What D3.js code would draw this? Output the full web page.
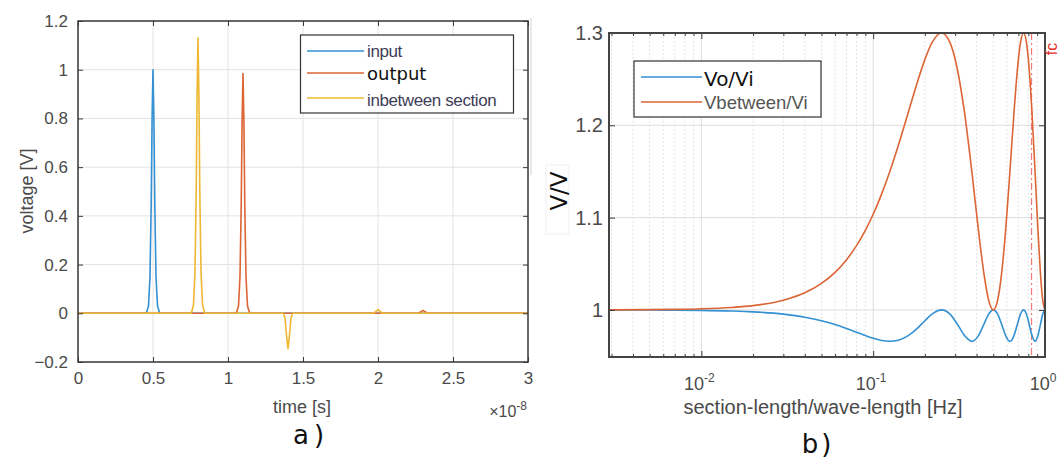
<!DOCTYPE html>
<html>
<head>
<meta charset="utf-8">
<script src="https://cdn.jsdelivr.net/npm/d3@7"></script>
<style>
  body { margin: 0; background: #fff; }
  text { font-family: "Liberation Sans", Arial, sans-serif; }
</style>
</head>
<body>
<div id="fig"></div>
<script>
// ---- data ----
// plot a) : time in units of 1e-8 s, voltage in V
var inputPulse = [[0,0],[0.455,0],[0.47,0.03],[0.48,0.15],[0.488,0.45],[0.494,0.8],[0.5,1.0],[0.506,0.8],[0.512,0.45],[0.52,0.15],[0.53,0.03],[0.545,0],[3,0]];
var outputPulse = [[0,0],[1.055,0],[1.07,0.03],[1.08,0.15],[1.088,0.44],[1.094,0.79],[1.1,0.984],[1.106,0.79],[1.112,0.44],[1.12,0.15],[1.13,0.03],[1.145,0],
  [2.27,0],[2.29,0.008],[2.3,0.012],[2.31,0.008],[2.33,0],[3,0]];
var betweenPulse = [[0,0],[0.755,0],[0.77,0.035],[0.78,0.17],[0.788,0.5],[0.794,0.9],[0.8,1.13],[0.806,0.9],[0.812,0.5],[0.82,0.17],[0.83,0.035],[0.845,0],
  [1.37,0],[1.38,-0.02],[1.39,-0.09],[1.4,-0.145],[1.41,-0.09],[1.42,-0.02],[1.43,0],
  [1.97,0],[1.99,0.01],[2.0,0.015],[2.01,0.01],[2.03,0],[3,0]];
var timeTicks = [0, 0.5, 1, 1.5, 2, 2.5, 3];
var voltTicks = [-0.2, 0, 0.2, 0.4, 0.6, 0.8, 1, 1.2];

// plot b) : section-length / wave-length
var freq = [0.0029,0.005,0.007,0.01,0.015,0.02,0.03,0.04,0.05,0.06,0.07,0.08,0.09,0.1,0.11,0.125,0.14,0.16,0.18,0.2,0.22,0.25,
  0.28,0.31,0.34,0.375,0.41,0.44,0.47,0.5,0.53,0.56,0.59,0.625,0.66,0.69,0.72,0.75,0.78,0.81,0.84,0.875,0.91,0.94,0.97,1.0];
var voVi = [1.0,0.9999,0.9997,0.9995,0.9988,0.9979,0.9954,0.9921,0.9883,0.9841,0.9798,0.9758,0.9722,0.9692,0.9672,0.966,0.9672,0.9722,0.9798,0.9883,0.9954,1.0,
  0.9954,0.9841,0.9722,0.966,0.9722,0.9841,0.9954,1.0,0.9954,0.9841,0.9722,0.966,0.9722,0.9841,0.9954,1.0,0.9954,0.9841,0.9722,0.966,0.9722,0.9841,0.9954,1.0];
var vbVi = [1.0001,1.0003,1.0006,1.0012,1.0027,1.0047,1.0105,1.0185,1.0287,1.0407,1.0544,1.0696,1.0861,1.1036,1.1219,1.15,1.1781,1.2139,1.2456,1.2714,1.2895,1.3,
  1.2895,1.2594,1.2139,1.15,1.0861,1.0407,1.0105,1.0,1.0105,1.0407,1.0861,1.15,1.2139,1.2594,1.2895,1.3,1.2895,1.2594,1.2139,1.15,1.0861,1.0407,1.0105,1.0];
var ratioTicks = [1, 1.1, 1.2, 1.3];
var freqTicks = [0.01, 0.1, 1];
var freqExp = ["-2", "-1", "0"];
var fcValue = 0.835;

var cBlue = "#3391d4", cRed = "#dc6535", cYellow = "#efb833";
var axisCol = "#3a3a3a", tickTxt = "#4a4a4a";

var width = 1059, height = 459;
var svg = d3.select("#fig").append("svg")
  .attr("width", width)
  .attr("height", height);

// ================= plot a) =================
var ax = { left: 78, right: 528, top: 21, bottom: 362 };
var xA = d3.scaleLinear().domain([0, 3]).range([ax.left, ax.right]);
var yA = d3.scaleLinear().domain([-0.2, 1.2]).range([ax.bottom, ax.top]);

var gA = svg.append("g");

//grid
gA.selectAll(".gx").data(timeTicks).enter().append("line")
  .attr("x1", d => xA(d)).attr("x2", d => xA(d))
  .attr("y1", ax.top).attr("y2", ax.bottom)
  .attr("stroke", "#e3e3e3");
gA.selectAll(".gy").data(voltTicks).enter().append("line")
  .attr("x1", ax.left).attr("x2", ax.right)
  .attr("y1", d => yA(d)).attr("y2", d => yA(d))
  .attr("stroke", "#e3e3e3");

svg.append("clipPath").attr("id", "clipA").append("rect")
  .attr("x", ax.left).attr("y", ax.top)
  .attr("width", ax.right - ax.left).attr("height", ax.bottom - ax.top);

var lineA = d3.line().x(d => xA(d[0])).y(d => yA(d[1]));
[[inputPulse, cBlue], [outputPulse, cRed], [betweenPulse, cYellow]].forEach(function (s) {
  gA.append("path")
    .attr("d", lineA(s[0]))
    .attr("clip-path", "url(#clipA)")
    .attr("fill", "none")
    .attr("stroke", s[1])
    .attr("stroke-width", 1.6)
    .attr("stroke-linejoin", "round");
});

//axes with inward ticks on all sides
var axB = d3.axisBottom(xA).tickValues(timeTicks).tickSize(-5).tickFormat(d3.format("~g")).tickPadding(10);
var axT = d3.axisTop(xA).tickValues(timeTicks).tickSize(-5).tickFormat("");
var axL = d3.axisLeft(yA).tickValues(voltTicks).tickSize(-5).tickFormat(d3.format("~g")).tickPadding(10);
var axR = d3.axisRight(yA).tickValues(voltTicks).tickSize(-5).tickFormat("");

function styleAxis(g, fs) {
  g.select(".domain").attr("stroke", axisCol).attr("stroke-width", 1.5);
  g.selectAll(".tick line").attr("stroke", axisCol);
  g.selectAll(".tick text").attr("fill", tickTxt).style("font-size", fs + "px")
    .style("font-family", "'Liberation Sans', Arial, sans-serif");
}
gA.append("g").attr("transform", "translate(0," + ax.bottom + ")").call(axB).call(styleAxis, 17);
gA.append("g").attr("transform", "translate(0," + ax.top + ")").call(axT).call(styleAxis, 17);
gA.append("g").attr("transform", "translate(" + ax.left + ",0)").call(axL).call(styleAxis, 17);
gA.append("g").attr("transform", "translate(" + ax.right + ",0)").call(axR).call(styleAxis, 17);
gA.selectAll("path.domain").attr("d", null);
gA.append("rect")
  .attr("x", ax.left).attr("y", ax.top)
  .attr("width", ax.right - ax.left).attr("height", ax.bottom - ax.top)
  .attr("fill", "none").attr("stroke", axisCol).attr("stroke-width", 1.5);

//labels
gA.append("text")
  .attr("x", 302).attr("y", 413)
  .attr("text-anchor", "middle")
  .attr("fill", tickTxt).style("font-size", "18px")
  .text("time [s]");
var expA = gA.append("text")
  .attr("x", 527).attr("y", 417)
  .attr("text-anchor", "end")
  .attr("fill", tickTxt).style("font-size", "16px");
expA.append("tspan").text("\u00d710");
expA.append("tspan").attr("dy", -7).style("font-size", "12px").text("-8");

gA.append("text")
  .attr("transform", "translate(33,191) rotate(-90)")
  .attr("text-anchor", "middle")
  .attr("fill", tickTxt).style("font-size", "18px")
  .text("voltage [V]");

gA.append("text")
  .attr("x", 311).attr("y", 444)
  .attr("text-anchor", "middle")
  .style("font-family", "'DejaVu Sans', sans-serif")
  .style("font-size", "26px")
  .style("letter-spacing", "5px")
  .attr("fill", "#111")
  .text("a)");

//legend a)
var legA = gA.append("g");
legA.append("rect")
  .attr("x", 300.5).attr("y", 35)
  .attr("width", 213).attr("height", 78)
  .attr("fill", "#fff").attr("stroke", "#333").attr("stroke-width", 1.2);
var legRowsA = [
  { name: "input", col: cBlue, ly: 51, ty: 57, font: "'Liberation Sans', Arial, sans-serif", fs: 17, tc: "#3d3d58" },
  { name: "output", col: cRed, ly: 73, ty: 80, font: "'DejaVu Sans', sans-serif", fs: 18, tc: "#111" },
  { name: "inbetween section", col: cYellow, ly: 98, ty: 106, font: "'Liberation Sans', Arial, sans-serif", fs: 17, tc: "#3d3d58" }
];
legRowsA.forEach(function (r) {
  legA.append("line")
    .attr("x1", 307).attr("x2", 364)
    .attr("y1", r.ly).attr("y2", r.ly)
    .attr("stroke", r.col).attr("stroke-width", 1.6);
  legA.append("text")
    .attr("x", 367).attr("y", r.ty)
    .style("font-family", r.font).style("font-size", r.fs + "px")
    .style("letter-spacing", r.fs == 17 ? "-0.4px" : "0px")
    .attr("fill", r.tc)
    .text(r.name);
});

//faint frame edge between the two panels
svg.append("line")
  .attr("x1", 531).attr("x2", 531).attr("y1", 18).attr("y2", 175)
  .attr("stroke", "#d4d4d4");

// ================= plot b) =================
var bx = { left: 609, right: 1045, top: 33, bottom: 357 };
var xB = d3.scaleLog().domain([0.0029, 1]).range([bx.left, bx.right]);
var yB = d3.scaleLinear().domain([0.949, 1.3]).range([bx.bottom, bx.top]);

var gB = svg.append("g");

//minor log grid (dotted) and major grid
var minorF = [];
[0.001, 0.01, 0.1].forEach(function (dec) {
  for (var k = 2; k <= 9; k++) {
    var v = dec * k;
    if (v > xB.domain()[0] && v < 1) minorF.push(v);
  }
});
gB.selectAll(".mg").data(minorF).enter().append("line")
  .attr("x1", d => xB(d)).attr("x2", d => xB(d))
  .attr("y1", bx.top).attr("y2", bx.bottom)
  .attr("stroke", "#dadada").attr("stroke-dasharray", "1.5,2.5");
gB.selectAll(".Mg").data(freqTicks).enter().append("line")
  .attr("x1", d => xB(d)).attr("x2", d => xB(d))
  .attr("y1", bx.top).attr("y2", bx.bottom)
  .attr("stroke", "#dcdcdc");
gB.selectAll(".hg").data(ratioTicks).enter().append("line")
  .attr("x1", bx.left).attr("x2", bx.right)
  .attr("y1", d => yB(d)).attr("y2", d => yB(d))
  .attr("stroke", "#dcdcdc");

svg.append("clipPath").attr("id", "clipB").append("rect")
  .attr("x", bx.left).attr("y", bx.top - 1)
  .attr("width", bx.right - bx.left).attr("height", bx.bottom - bx.top + 1);

//fc marker
gB.append("line")
  .attr("x1", xB(fcValue)).attr("x2", xB(fcValue))
  .attr("y1", bx.top).attr("y2", bx.bottom)
  .attr("stroke", "#f07a7a").attr("stroke-width", 1.2)
  .attr("stroke-dasharray", "7,3,2,3");

var lineB = d3.line()
  .x((d, i) => xB(freq[i]))
  .y(d => yB(d))
  .curve(d3.curveMonotoneX);
[[voVi, cBlue], [vbVi, cRed]].forEach(function (s) {
  gB.append("path")
    .attr("d", lineB(s[0]))
    .attr("clip-path", "url(#clipB)")
    .attr("fill", "none")
    .attr("stroke", s[1])
    .attr("stroke-width", 1.6);
});

//axes
var minorTickLen = 3, majorTickLen = 6;
var bxB = d3.axisBottom(xB).tickValues(freqTicks).tickSize(-majorTickLen).tickFormat("");
var bxT = d3.axisTop(xB).tickValues(freqTicks).tickSize(-majorTickLen).tickFormat("");
var bxBm = d3.axisBottom(xB).tickValues(minorF).tickSize(-minorTickLen).tickFormat("");
var bxTm = d3.axisTop(xB).tickValues(minorF).tickSize(-minorTickLen).tickFormat("");
var byL = d3.axisLeft(yB).tickValues(ratioTicks).tickSize(-majorTickLen).tickFormat(d3.format("~g")).tickPadding(6);
var byR = d3.axisRight(yB).tickValues(ratioTicks).tickSize(-majorTickLen).tickFormat("");

[[bxB, bx.bottom, 0], [bxBm, bx.bottom, 0], [bxT, bx.top, 0], [bxTm, bx.top, 0]].forEach(function (a) {
  gB.append("g").attr("transform", "translate(0," + a[1] + ")").call(a[0]).call(styleAxis, 20);
});
gB.append("g").attr("transform", "translate(" + bx.left + ",0)").call(byL).call(styleAxis, 20);
gB.append("g").attr("transform", "translate(" + bx.right + ",0)").call(byR).call(styleAxis, 20);
gB.selectAll("path.domain").attr("d", null);
gB.append("rect")
  .attr("x", bx.left).attr("y", bx.top)
  .attr("width", bx.right - bx.left).attr("height", bx.bottom - bx.top)
  .attr("fill", "none").attr("stroke", "#444").attr("stroke-width", 2);

//log tick labels 10^k
freqTicks.forEach(function (f, i) {
  var t = gB.append("text")
    .attr("x", xB(f) - 2).attr("y", 390)
    .attr("text-anchor", "middle")
    .attr("fill", tickTxt).style("font-size", "18px");
  t.append("tspan").text("10");
  t.append("tspan").attr("dy", -8).style("font-size", "12px").text(freqExp[i]);
});

gB.append("text")
  .attr("x", 823).attr("y", 414)
  .attr("text-anchor", "middle")
  .attr("fill", tickTxt).style("font-size", "20px")
  .text("section-length/wave-length [Hz]");

gB.append("rect")
  .attr("x", 546).attr("y", 165).attr("width", 23).attr("height", 69)
  .attr("fill", "none").attr("stroke", "#f0f0f0");
gB.append("text")
  .attr("transform", "translate(567,191) rotate(-90)")
  .attr("text-anchor", "middle")
  .style("font-family", "'DejaVu Sans', sans-serif")
  .style("font-size", "23px")
  .attr("fill", "#111")
  .text("V/V");

gB.append("text")
  .attr("transform", "translate(1057,49) rotate(-90)")
  .attr("text-anchor", "middle")
  .style("font-size", "16px")
  .attr("fill", "#e8302a")
  .text("fc");

gB.append("text")
  .attr("x", 818).attr("y", 453)
  .attr("text-anchor", "middle")
  .style("font-family", "'DejaVu Sans', sans-serif")
  .style("font-size", "26px")
  .style("letter-spacing", "3px")
  .attr("fill", "#111")
  .text("b)");

//legend b)
var legB = gB.append("g");
legB.append("rect")
  .attr("x", 634).attr("y", 61)
  .attr("width", 187).attr("height", 56)
  .attr("fill", "#fff").attr("stroke", "#333").attr("stroke-width", 1.2);
var legRowsB = [
  { name: "Vo/Vi", col: cBlue, ly: 77, ty: 86, font: "'DejaVu Sans', sans-serif", fs: 20, tc: "#111" },
  { name: "Vbetween/Vi", col: cRed, ly: 102, ty: 109, font: "'Liberation Sans', Arial, sans-serif", fs: 18.5, tc: "#555" }
];
legRowsB.forEach(function (r) {
  legB.append("line")
    .attr("x1", 641).attr("x2", 702)
    .attr("y1", r.ly).attr("y2", r.ly)
    .attr("stroke", r.col).attr("stroke-width", 1.6);
  legB.append("text")
    .attr("x", 704).attr("y", r.ty)
    .style("font-family", r.font).style("font-size", r.fs + "px")
    .attr("fill", r.tc)
    .text(r.name);
});
</script>
</body>
</html>
